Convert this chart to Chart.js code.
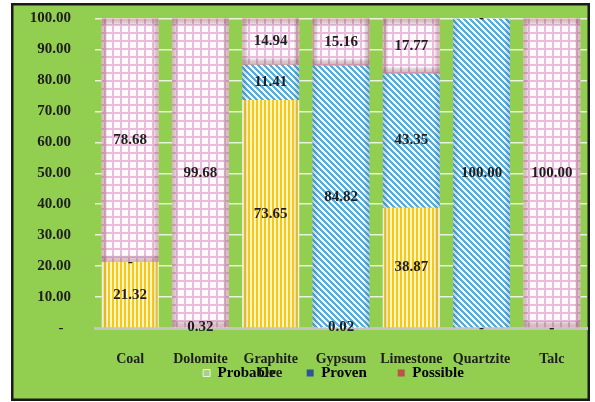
<!DOCTYPE html>
<html><head><meta charset="utf-8">
<script src="https://cdn.jsdelivr.net/npm/chart.js@4/dist/chart.umd.min.js"></script>
<style>html,body{margin:0;padding:0;background:#fff;}canvas{display:block;}</style>
</head><body>
<canvas id="c" width="595" height="402"></canvas>
<script>
const categories = ['Coal','Dolomite','Graphite','Gypsum','Limestone','Quartzite','Talc'];
const probable = [21.32, 0.32, 73.65, 0.02, 38.87, 0, 0];
const proven   = [0, null, 11.41, 84.82, 43.35, 100, 0];
const possible = [78.68, 99.68, 14.94, 15.16, 17.77, 0, 100];
const seriesNames = ['Probable','Proven','Possible'];
const legendColors = ['#a9d18e','#2f5597','#c0504d'];
const axisTitle = 'Ore';

const FONT = '"Liberation Serif", "Times New Roman", serif';
const TXT = '#1e1e1e';

function makePattern(w, h, draw) {
  const c = document.createElement('canvas');
  c.width = w; c.height = h;
  const g = c.getContext('2d');
  draw(g, w, h);
  return g.createPattern(c, 'repeat');
}
const yellowPat = makePattern(4, 1, g => {
  g.fillStyle = '#fff6c8'; g.fillRect(0, 0, 4, 1);
  g.fillStyle = '#f7c816'; g.fillRect(0, 0, 2, 1);
});
const bluePat = makePattern(6, 6, g => {
  for (let x = 0; x < 6; x++) for (let y = 0; y < 6; y++) {
    g.fillStyle = (((x - y) % 6 + 6) % 6) < 3 ? '#4ab1e8' : '#f4fbff';
    g.fillRect(x, y, 1, 1);
  }
});
const pinkPat = makePattern(8, 8, g => {
  g.fillStyle = '#fffbfd'; g.fillRect(0, 0, 8, 8);
  g.fillStyle = '#ecbadb'; g.fillRect(0, 0, 8, 2); g.fillRect(0, 0, 2, 8);
});

const frame = {
  id: 'frame',
  beforeDraw(chart) {
    const ctx = chart.ctx;
    ctx.save();
    ctx.fillStyle = '#ffffff'; ctx.fillRect(0, 0, chart.width, chart.height);
    ctx.fillStyle = '#92cf50'; ctx.fillRect(11, 3, 579, 398);
    ctx.strokeStyle = '#1a1a1a'; ctx.lineWidth = 2.5;
    ctx.strokeRect(12.25, 4.25, 576.5, 395.5);
    ctx.restore();
  }
};

const edgeColors = ['rgba(255,255,255,0.4)', 'rgba(40,110,185,0.3)', 'rgba(205,115,130,0.5)'];
const labels = {
  id: 'barLabels',
  afterDatasetsDraw(chart) {
    const ctx = chart.ctx;
    ctx.save();
    chart.data.datasets.forEach((ds, i) => {
      const meta = chart.getDatasetMeta(i);
      meta.data.forEach((el, j) => {
        if (ds.data[j] === null) return;
        const top = Math.min(el.y, el.base), bot = Math.max(el.y, el.base);
        const h = bot - top; if (h < 1) return;
        const l = el.x - el.width / 2, w = el.width;
        const gx = ctx.createLinearGradient(l, 0, l + w, 0);
        gx.addColorStop(0, edgeColors[i]); gx.addColorStop(0.1, 'rgba(0,0,0,0)');
        gx.addColorStop(0.9, 'rgba(0,0,0,0)'); gx.addColorStop(1, edgeColors[i]);
        ctx.fillStyle = gx; ctx.fillRect(l, top, w, h);
        if (i === 2) {
          const e = Math.min(7, h / 2);
          const gy = ctx.createLinearGradient(0, top, 0, top + e);
          gy.addColorStop(0, edgeColors[i]); gy.addColorStop(1, 'rgba(0,0,0,0)');
          ctx.fillStyle = gy; ctx.fillRect(l, top, w, e);
          const gb = ctx.createLinearGradient(0, bot, 0, bot - e);
          gb.addColorStop(0, edgeColors[i]); gb.addColorStop(1, 'rgba(0,0,0,0)');
          ctx.fillStyle = gb; ctx.fillRect(l, bot - e, w, e);
        }
      });
    });
    ctx.font = 'bold 15px ' + FONT;
    ctx.fillStyle = TXT; ctx.textAlign = 'center'; ctx.textBaseline = 'middle';
    chart.data.datasets.forEach((ds, i) => {
      const meta = chart.getDatasetMeta(i);
      meta.data.forEach((el, j) => {
        const v = ds.data[j];
        if (v === null || v === undefined) return;
        ctx.fillText(v === 0 ? '-' : v.toFixed(2), el.x, (el.y + el.base) / 2);
      });
    });
    ctx.restore();
  },
  afterDraw(chart) {
    const ctx = chart.ctx;
    ctx.save();
    ctx.font = 'bold 15px ' + FONT;
    ctx.fillStyle = TXT; ctx.textAlign = 'center'; ctx.textBaseline = 'middle';
    ctx.fillText(axisTitle, 270, 373);
    ctx.restore();
  }
};

const noClip = (s) => { s._computeLabelArea = () => undefined; };

new Chart(document.getElementById('c'), {
  type: 'bar',
  data: {
    labels: categories,
    datasets: [
      { label: seriesNames[0], data: probable, backgroundColor: yellowPat, borderWidth: 0 },
      { label: seriesNames[1], data: proven, backgroundColor: bluePat, borderWidth: 0 },
      { label: seriesNames[2], data: possible, backgroundColor: pinkPat, borderWidth: 0 }
    ]
  },
  options: {
    responsive: false, devicePixelRatio: 1, animation: false,
    categoryPercentage: 1, barPercentage: 0.81,
    layout: { padding: { left: 80, right: 8, top: 18.5, bottom: 11.5 } },
    plugins: {
      tooltip: { enabled: false },
      legend: {
        position: 'bottom',
        labels: {
          boxWidth: 7, boxHeight: 7, padding: 31, color: TXT,
          font: { family: FONT, size: 15, weight: 'bold' },
          generateLabels: (chart) => seriesNames.map((n, i) => ({
            text: n, fillStyle: legendColors[i], strokeStyle: i === 0 ? '#e8f5dc' : legendColors[i],
            lineWidth: i === 0 ? 1 : 0, datasetIndex: i, hidden: false
          }))
        }
      }
    },
    scales: {
      x: {
        stacked: true,
        grid: { display: false },
        border: { display: true, color: '#c4c4c4', width: 3 },
        ticks: { color: TXT, padding: 15, font: { family: FONT, size: 14, weight: 'bold' }, maxRotation: 0, autoSkip: false },
        afterFit: (s) => { s.height = 6.5; noClip(s); }
      },
      y: {
        stacked: true, min: 0, max: 100,
        grid: { color: 'rgba(236,244,228,0.95)', lineWidth: 1.5, drawTicks: true, tickLength: 21, tickColor: 'rgba(0,0,0,0)' },
        border: { display: false },
        ticks: {
          stepSize: 10, padding: 3, color: TXT,
          font: { family: FONT, size: 15, weight: 'bold' },
          callback: (v) => v === 0 ? '-  ' : Number(v).toFixed(2)
        },
        afterFit: (s) => { s.width = 15; noClip(s); }
      }
    }
  },
  plugins: [frame, labels]
});
</script>
</body></html>
